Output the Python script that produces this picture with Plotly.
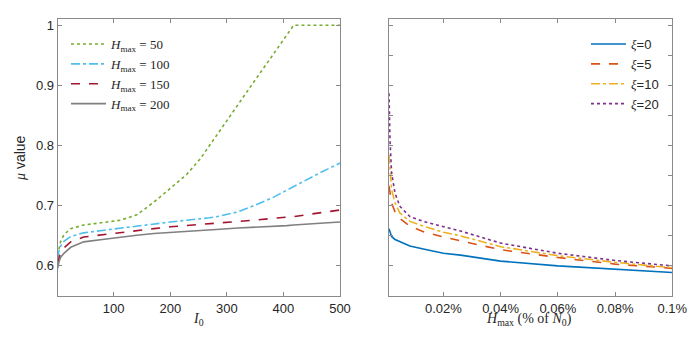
import plotly.graph_objects as go

# left panel: mu value vs I0
I0 = [1, 3, 6, 12, 24, 47, 80, 112, 141, 171, 200, 229, 253, 269, 288,
      320, 347, 380, 406, 418, 440, 465, 500]
mu_h50 = [0.618, 0.630, 0.640, 0.652, 0.662, 0.668, 0.672, 0.676, 0.685, 0.706,
          0.729, 0.752, 0.778, 0.800, 0.826, 0.868, 0.905, 0.949, 0.984, 1.0,
          1.0, 1.0, 1.0]
mu_h100 = [0.612, 0.624, 0.633, 0.641, 0.649, 0.655, 0.659, 0.663, 0.666, 0.670,
           0.673, 0.676, 0.678, 0.680, 0.683, 0.690, 0.700, 0.713, 0.726, 0.732,
           0.742, 0.755, 0.771]
mu_h150 = [0.604, 0.614, 0.623, 0.630, 0.640, 0.648, 0.652, 0.656, 0.659, 0.662,
           0.665, 0.667, 0.669, 0.670, 0.671, 0.673, 0.676, 0.679, 0.681, 0.682,
           0.685, 0.688, 0.693]
mu_h200 = [0.596, 0.606, 0.614, 0.621, 0.631, 0.640, 0.644, 0.648, 0.651, 0.654,
           0.656, 0.658, 0.659, 0.660, 0.661, 0.663, 0.664, 0.666, 0.667, 0.668,
           0.669, 0.671, 0.673]

# right panel: mu value vs Hmax (% of N0)
hmax_pct = [0.001, 0.00135, 0.0019, 0.0031, 0.0048, 0.0083, 0.013, 0.02, 0.026,
            0.04, 0.06, 0.08, 0.1]
mu_xi0 = [0.662, 0.655, 0.649, 0.644, 0.640, 0.633, 0.628, 0.621, 0.618,
          0.608, 0.600, 0.594, 0.589]
mu_xi5 = [0.733, 0.718, 0.705, 0.690, 0.679, 0.666, 0.657, 0.648, 0.642,
          0.627, 0.614, 0.603, 0.596]
mu_xi10 = [0.785, 0.754, 0.727, 0.705, 0.688, 0.674, 0.666, 0.656, 0.650,
           0.632, 0.617, 0.606, 0.597]
mu_xi20 = [0.887, 0.810, 0.755, 0.721, 0.699, 0.682, 0.674, 0.665, 0.658,
           0.638, 0.621, 0.609, 0.600]

SANS = "Liberation Sans, Arial, sans-serif"
SERIF = "Liberation Serif, Times New Roman, serif"
AXIS_COLOR = "#8a8a8a"
TEXT_COLOR = "#262626"

# the page body has an 8px margin on every side, so the figure is shrunk
# to fit the 695x338 window exactly
OFF = 8
W, H = 695 - 2 * OFF, 338 - 2 * OFF


def px_x(x):
    return (x - OFF) / W


def px_y(y):
    return 1 - (y - OFF) / H


fig = go.Figure()

left_series = [
    (mu_h50, "50", "#77AC30", "dot"),
    (mu_h100, "100", "#4DBEEE", "dashdot"),
    (mu_h150, "150", "#A2142F", "dash"),
    (mu_h200, "200", "#808080", "solid"),
]
for values, label, color, dash in left_series:
    fig.add_trace(
        go.Scatter(
            x=I0,
            y=values,
            mode="lines",
            line=dict(color=color, width=1.6, dash=dash),
            name=f"<i>H</i><sub>max</sub> = {label}",
            xaxis="x",
            yaxis="y",
            legend="legend"
        )
    )

right_series = [
    (mu_xi0, "0", "#0072BD", "solid"),
    (mu_xi5, "5", "#D95319", "dash"),
    (mu_xi10, "10", "#EDB120", "dashdot"),
    (mu_xi20, "20", "#7E2F8E", "dot"),
]
for values, label, color, dash in right_series:
    fig.add_trace(
        go.Scatter(
            x=hmax_pct,
            y=values,
            mode="lines",
            line=dict(color=color, width=1.6, dash=dash),
            name=f"<span style='font-family:{SERIF}'><i>ξ</i></span>={label}",
            xaxis="x2",
            yaxis="y2",
            legend="legend2"
        )
    )

common_axis = dict(
    showline=True,
    linecolor=AXIS_COLOR,
    linewidth=1,
    mirror="ticks",
    ticks="inside",
    ticklen=4,
    tickcolor=AXIS_COLOR,
    showgrid=False,
    zeroline=False,
    automargin=False,
    ticklabeloverflow="allow",
    tickfont=dict(family=SANS, size=13, color=TEXT_COLOR),
)

y_domain = [px_y(296), px_y(19.3)]

# axis titles as paper annotations; x titles are pinned to the bottom edge
titles = [
    dict(text="<i>I</i><sub>0</sub>", x=px_x(198), y=px_y(330),
         yanchor="bottom", font=dict(family=SERIF, size=14, color=TEXT_COLOR)),
    dict(text="<i>H</i><sub>max</sub> (% of <i>N</i><sub>0</sub>)",
         x=px_x(529), y=px_y(330), yanchor="bottom",
         font=dict(family=SERIF, size=14, color=TEXT_COLOR)),
    dict(text=f"<span style='font-family:{SERIF}'><i>μ</i></span> value",
         x=px_x(20), y=px_y(158), yanchor="middle", textangle=-90,
         font=dict(family=SANS, size=14, color=TEXT_COLOR)),
]
annotations = [
    dict(t, xref="paper", yref="paper", xanchor="center", showarrow=False)
    for t in titles
]

fig.update_layout(
    width=W,
    height=H,
    margin=dict(l=0, r=0, t=0, b=0),
    paper_bgcolor="white",
    plot_bgcolor="white",
    font=dict(family=SANS, color=TEXT_COLOR),
    xaxis=dict(
        common_axis,
        domain=[px_x(57.7), px_x(340)],
        range=[1, 500],
        tickvals=[100, 200, 300, 400, 500],
    ),
    yaxis=dict(
        common_axis,
        domain=y_domain,
        range=[0.55, 1.01],
        tickvals=[0.6, 0.7, 0.8, 0.9, 1.0],
        ticktext=["0.6", "0.7", "0.8", "0.9", "1"],
    ),
    xaxis2=dict(
        common_axis,
        domain=[px_x(389), px_x(672.3)],
        range=[0.001, 0.1],
        tickvals=[0.02, 0.04, 0.06, 0.08, 0.1],
        ticktext=["0.02%", "0.04%", "0.06%", "0.08%", "0.1%"],
        anchor="y2",
    ),
    yaxis2=dict(
        common_axis,
        domain=y_domain,
        range=[0.55, 1.01],
        tickvals=[0.6, 0.65, 0.7, 0.75, 0.8, 0.85, 0.9, 0.95, 1.0],
        showticklabels=False,
        anchor="x2",
    ),
    annotations=annotations,
    legend=dict(
        x=px_x(66),
        y=px_y(29),
        xanchor="left",
        yanchor="top",
        bgcolor="rgba(0,0,0,0)",
        font=dict(family=SERIF, size=13, color=TEXT_COLOR),
        itemwidth=35,
        tracegroupgap=0,
    ),
    legend2=dict(
        x=px_x(586),
        y=px_y(29),
        xanchor="left",
        yanchor="top",
        bgcolor="rgba(0,0,0,0)",
        font=dict(family=SANS, size=13, color=TEXT_COLOR),
        itemwidth=35,
        tracegroupgap=0,
    ),
    showlegend=True,
)

fig.write_html("out.html")
